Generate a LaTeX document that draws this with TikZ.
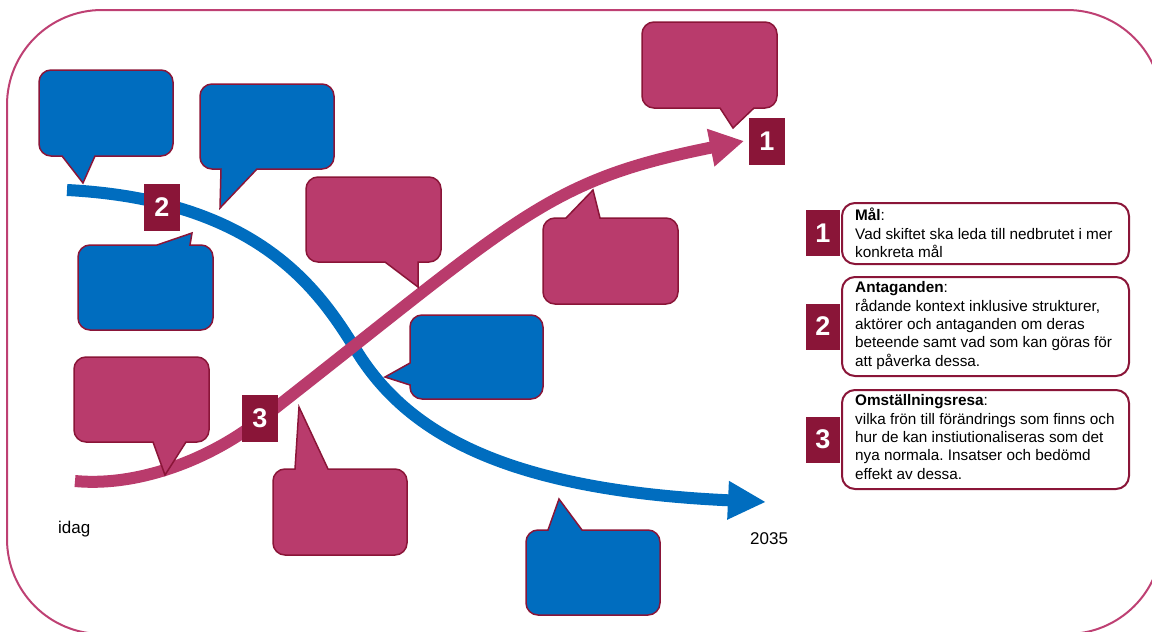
\documentclass[tikz,border=0pt]{standalone}
\usepackage{fontspec}
\setmainfont{Liberation Sans}
\frenchspacing
\usetikzlibrary{arrows.meta}
\definecolor{pinkc}{RGB}{185,59,108}
\definecolor{bluec}{RGB}{0,109,191}
\definecolor{maroonc}{RGB}{138,21,56}
\definecolor{framec}{RGB}{190,64,115}
% #1 style, #2 x1, #3 y1, #4 x2, #5 y2, #6 top tail, #7 right tail, #8 bottom tail, #9 left tail
\newcommand{\speechbub}[9]{%
  \draw[#1] ({#2+12},#3) #6 -- ({#4-12},#3) arc[start angle=-90,end angle=0,radius=12]
    #7 -- (#4,{#5-12}) arc[start angle=0,end angle=90,radius=12]
    #8 -- ({#2+12},#5) arc[start angle=90,end angle=180,radius=12]
    #9 -- (#2,{#3+12}) arc[start angle=180,end angle=270,radius=12] -- cycle;}
\begin{document}
\begin{tikzpicture}[x=1pt,y=-1pt,
  bubblue/.style={fill=bluec,draw=maroonc,line width=1.5pt,line join=miter},
  bubpink/.style={fill=pinkc,draw=maroonc,line width=1.5pt,line join=miter},
  numbox/.style={fill=maroonc,text=white,inner sep=0pt,minimum width=36pt,minimum height=47pt,
    font=\fontsize{27}{27}\selectfont\bfseries},
  legnum/.style={numbox,minimum width=34pt,minimum height=46pt},
  legbox/.style={draw=maroonc,fill=white,line width=2pt,rounded corners=13pt,inner sep=0pt,
    minimum width=287pt,anchor=north west},
  legtext/.style={anchor=west,align=left,inner sep=0pt,font=\fontsize{15.3}{18.3}\selectfont},
  yeartext/.style={anchor=base west,inner sep=0pt,font=\fontsize{17}{20}\selectfont},
  flow/.style={line width=12pt}]
\useasboundingbox (0,0) rectangle (1152,632);
\begin{scope}
  \clip (0,0) rectangle (1152,632);
  \draw[framec,line width=2pt,rounded corners=95pt] (7,10) rectangle (1162,634);
\end{scope}

% flow curves
\coordinate (bS) at (67,190);
\coordinate (bM) at (356,350);
\coordinate (bE) at (766,502);
\draw[flow,bluec,-{Triangle[length=38pt,width=36pt]}] (bS) .. controls (260,200) and (320,292) .. (bM)
  .. controls (405,430) and (500,490) .. (bE);

\coordinate (pS) at (75,481);
\coordinate (p1) at (260,420);
\coordinate (pE) at (744,141);
\draw[flow,pinkc,-{Triangle[length=34pt,width=36pt]}] (pS) .. controls (139,487) and (210,459) .. (p1)
  .. controls (520,217) and (544,181) .. (pE);

% blue bubbles
\speechbub{bubblue}{39}{70}{173}{156}{}{}{-- (95,156) -- (83,183) -- (62,156)}{}
\speechbub{bubblue}{200}{84}{334}{169}{}{}{-- (257,169) -- (220,208) -- (221,169)}{}
\speechbub{bubblue}{78}{245}{213}{330}{-- (157,245) -- (192,233) -- (190,245)}{}{}{}
\speechbub{bubblue}{410}{315}{543}{399}{}{}{}{-- (410,385) -- (385,377) -- (410,363)}
\speechbub{bubblue}{526}{530}{660}{615}{-- (548,530) -- (559,499) -- (582,530)}{}{}{}

% pink bubbles
\speechbub{bubpink}{74}{357}{209}{442}{}{}{-- (186,442) -- (165,475) -- (153,442)}{}
\speechbub{bubpink}{273}{469}{407}{555}{-- (295,469) -- (299,407) -- (328,469)}{}{}{}
\speechbub{bubpink}{306}{177}{441}{262}{}{}{-- (418,262) -- (418,287) -- (385,262)}{}
\speechbub{bubpink}{543}{218}{678}{304}{-- (566,218) -- (593,190) -- (600,218)}{}{}{}
\speechbub{bubpink}{642}{22}{777}{108}{}{}{-- (754,108) -- (733,128) -- (720,108)}{}

% labels on the curves
\node[numbox] (n2) at (162,207) {2};
\node[numbox] (n3) at (260,418.5) {3};
\node[numbox] (n1) at (767,141) {1};

% time labels
\node[yeartext] (idag) at (58,533) {idag};
\node[yeartext] (y2035) at (750,544) {2035};

% legend
\node[legbox,minimum height=61pt] (lb1) at (841,202) {};
\node[legbox,minimum height=99pt] (lb2) at (841,276) {};
\node[legbox,minimum height=99pt] (lb3) at (841,389) {};
\node[legnum] (ln1) at (823,233) {1};
\node[legnum] (ln2) at (823,326.5) {2};
\node[legnum] (ln3) at (823,439.5) {3};
\node[legtext] (lt1) at (855,233) {\textbf{Mål}:\\Vad skiftet ska leda till nedbrutet i mer\\konkreta mål};
\node[legtext] (lt2) at (855,325.5) {\textbf{Antaganden}:\\rådande kontext inklusive strukturer,\\aktörer och antaganden om deras\\beteende samt vad som kan göras för\\att påverka dessa.};
\node[legtext] (lt3) at (855,437) {\textbf{Omställningsresa}:\\vilka frön till förändrings som finns och\\hur de kan instiutionaliseras som det\\nya normala. Insatser och bedömd\\effekt av dessa.};
\end{tikzpicture}
\end{document}
